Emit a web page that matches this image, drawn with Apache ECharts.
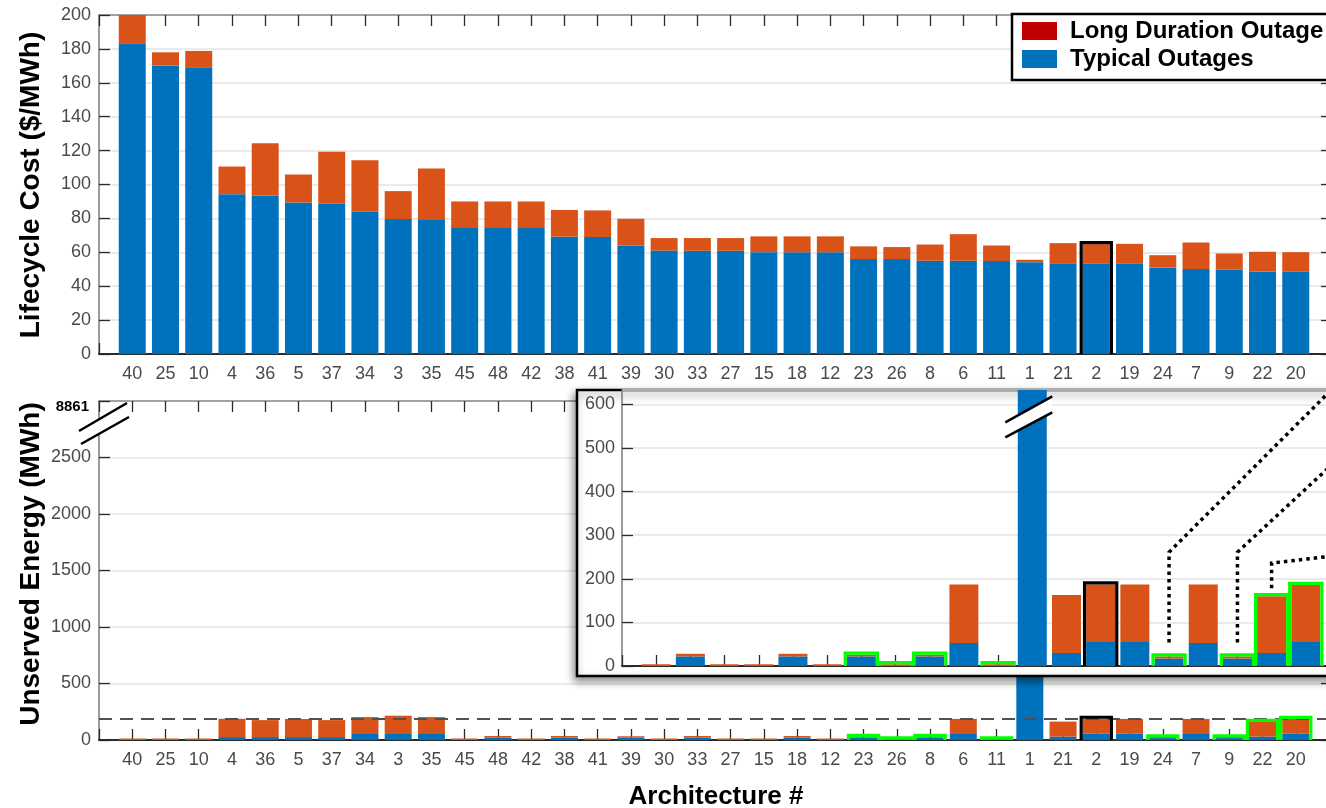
<!DOCTYPE html>
<html>
<head>
    <meta charset="utf-8"/>
    <style>
        html, body {
            margin: 0;
            padding: 0;
            background: #fff;
        }

        #main {
            width: 1326px;
            height: 808px;
        }
    </style>
</head>
<body>
<div id="main"></div>
<script src="https://cdn.jsdelivr.net/npm/echarts@6/dist/echarts.min.js"></script>
<script type="text/javascript">
// architectures in plotted order
var architectures = ['40', '25', '10', '4', '36', '5', '37', '34', '3', '35', '45', '48', '42', '38', '41', '39', '30', '33',
    '27', '15', '18', '12', '23', '26', '8', '6', '11', '1', '21', '2', '19', '24', '7', '9', '22', '20'];

// lifecycle cost ($/MWh)
var costTypical = [183.3, 170.1, 169.2, 94.3, 93.5, 89.4, 88.6, 83.9, 79.6, 79.0, 74.3, 74.3, 74.3, 69.2, 69.0, 64.0, 61.0, 60.9,
    60.9, 60.1, 60.0, 60.0, 56.0, 56.0, 55.0, 55.0, 54.8, 54.2, 53.6, 53.2, 53.2, 51.1, 50.1, 49.7, 48.7, 48.5];
var costLong = [17.7, 7.9, 9.6, 16.3, 30.9, 16.5, 30.7, 30.4, 16.5, 30.4, 15.7, 15.7, 15.7, 15.8, 15.7, 15.8, 7.4, 7.5,
    7.5, 9.3, 9.4, 9.4, 7.5, 7.1, 9.6, 15.7, 9.2, 1.4, 11.8, 11.6, 11.8, 7.2, 15.7, 9.6, 11.6, 11.6];

// unserved energy (MWh)
var energyTypical = [0, 0, 0, 26, 26, 26, 26, 53, 53, 53, 0, 22, 0, 22, 0, 20, 0, 22,
    0, 0, 22, 0, 22, 0, 22, 53, 0, 8861, 30, 55, 55, 17, 53, 17, 30, 55];
var energyLong = [5, 5, 5, 162, 150, 160, 150, 150, 162, 150, 5, 6, 5, 6, 5, 7, 4, 6,
    4, 4, 6, 4, 4, 4, 4, 134, 4, 0, 133, 132, 132, 5, 134, 5, 130, 131];

var costTicks = [0, 200, 20];          // min, max, step
var energyTicks = [0, 3000, 500];      // axis broken at the top
var insetTicks = [0, 633, 100];
var energyLimit = 187;                 // dashed line
var insetFrom = '30';                  // zoomed panel starts here
var selectedArch = ['2'];
var feasibleArch = ['23', '26', '8', '11', '24', '9', '22', '20'];
var calloutArch = ['24', '9', '22'];

var blue = '#0072BD', orange = '#D95319', green = '#00FF00';
var tickFont = "'Liberation Sans', Arial, sans-serif";
var boldFont = "'Liberation Sans', Arial, sans-serif";
var labelColor = '#4a4a4a';
var mainBar = 27, insetBar = 29;

var chart = echarts.init(document.getElementById('main'));

var insetStart = architectures.indexOf(insetFrom);
var insetArch = architectures.slice(insetStart);
var maxEnergy = Math.max.apply(null, energyTypical.map(function (v, i) { return v + energyLong[i]; }));

// one empty slot on each side, like xlim [0, n+1]
function pad(vals) {
    return ['-'].concat(vals, ['-']);
}

function totals(a, b, names, wanted) {
    var out = [];
    names.forEach(function (n, i) {
        if (wanted.indexOf(n) >= 0) out.push([i + 1, a[i] + b[i]]);
    });
    return out;
}

function xAxisDef(grid, names, pos, labels, z) {
    return {
        type: 'category', gridIndex: grid, position: pos, boundaryGap: false, z: z,
        data: [''].concat(names, ['']),
        axisLine: {show: true, onZero: false, lineStyle: {color: pos === 'bottom' ? '#2b2b2b' : '#8a8a8a', width: pos === 'bottom' ? 2 : 1.5}},
        axisTick: {show: true, inside: true, interval: 0, length: 11, lineStyle: {color: '#2b2b2b', width: 1.3}},
        splitLine: {show: false},
        axisLabel: labels ? {show: true, interval: 0, margin: 11, color: labelColor, fontSize: 18, fontFamily: tickFont} : {show: false}
    };
}

function yAxisDef(grid, ticks, pos, labels, z, extra) {
    var ax = {
        type: 'value', gridIndex: grid, position: pos, min: ticks[0], max: ticks[1], interval: ticks[2], z: z,
        axisLine: {show: true, onZero: false, lineStyle: {color: '#7a7a7a', width: 1.5}},
        axisTick: {show: true, inside: true, length: pos === 'left' ? 11 : 8, lineStyle: {color: '#2b2b2b', width: 1.3}},
        splitLine: {show: labels, lineStyle: {color: '#e3e3e3', width: 1.6}},
        axisLabel: labels ? {show: true, margin: 8, color: labelColor, fontSize: 18, fontFamily: tickFont} : {show: false}
    };
    if (extra) echarts.util.merge(ax.axisLabel, extra, true);
    return ax;
}

function outline(xi, yi, data, color, barW, z) {
    return {
        type: 'custom', xAxisIndex: xi, yAxisIndex: yi, z: z, silent: true, clip: true,
        data: data,
        renderItem: function (params, api) {
            var top = api.coord([api.value(0), api.value(1)]);
            var base = api.coord([api.value(0), 0]);
            var lw = 3.2, w = barW + lw;
            return {
                type: 'rect',
                shape: {x: top[0] - w / 2, y: top[1] - lw / 2, width: w, height: base[1] - top[1] + lw},
                style: {fill: 'rgba(0,0,0,0)', stroke: color, lineWidth: lw}
            };
        }
    };
}

var dashed = {
    silent: true, symbol: ['none', 'none'], label: {show: false},
    lineStyle: {color: '#505050', type: [13, 8], width: 2},
    data: [{yAxis: energyLimit}]
};

var option = {
    animation: false,
    backgroundColor: '#fff',
    grid: [
        {left: 99, top: 15, width: 1230, height: 339, outerBoundsMode: 'none'},
        {left: 99, top: 401, width: 1230, height: 339, outerBoundsMode: 'none'},
        {left: 622, top: 390, width: 718, height: 276, outerBoundsMode: 'none'}
    ],
    legend: {
        left: 1012, top: 14, orient: 'vertical', z: 40,
        backgroundColor: '#fff', borderColor: '#000', borderWidth: 2.5,
        padding: [5, 10, 9, 10], itemGap: 4, itemWidth: 35, itemHeight: 18,
        icon: 'rect', selectedMode: false,
        textStyle: {fontSize: 24, fontWeight: 'bold', color: '#000', fontFamily: boldFont, padding: [0, 0, 0, 8]},
        data: [{name: 'Long Duration Outage', itemStyle: {color: '#C00000'}}, {name: 'Typical Outages'}]
    },
    xAxis: [
        xAxisDef(0, architectures, 'bottom', true, 0),
        xAxisDef(0, architectures, 'top', false, 0),
        xAxisDef(1, architectures, 'bottom', true, 0),
        xAxisDef(1, architectures, 'top', false, 0),
        xAxisDef(2, insetArch, 'bottom', false, 12)
    ],
    yAxis: [
        yAxisDef(0, costTicks, 'left', true, 0),
        yAxisDef(0, costTicks, 'right', false, 0),
        yAxisDef(1, energyTicks, 'left', true, 0, {
            formatter: function (v) { return v === energyTicks[1] ? '{brk|' + maxEnergy + '}' : v; },
            rich: {brk: {fontSize: 15, fontWeight: 'bold', color: '#000', fontFamily: boldFont, padding: [11, 2, 0, 0]}}
        }),
        yAxisDef(1, energyTicks, 'right', false, 0),
        yAxisDef(2, insetTicks, 'left', true, 12, {margin: 7, showMaxLabel: false})
    ],
    series: [
        {name: 'Typical Outages', type: 'bar', stack: 'cost', xAxisIndex: 0, yAxisIndex: 0, barWidth: mainBar,
            itemStyle: {color: blue}, data: pad(costTypical)},
        {name: 'Long Duration Outage', type: 'bar', stack: 'cost', xAxisIndex: 0, yAxisIndex: 0, barWidth: mainBar,
            itemStyle: {color: orange}, data: pad(costLong)},
        outline(0, 0, totals(costTypical, costLong, architectures, selectedArch), '#000', mainBar, 5),

        {name: 'Typical Outages', type: 'bar', stack: 'energy', xAxisIndex: 2, yAxisIndex: 2, barWidth: mainBar,
            itemStyle: {color: blue}, data: pad(energyTypical)},
        {name: 'Long Duration Outage', type: 'bar', stack: 'energy', xAxisIndex: 2, yAxisIndex: 2, barWidth: mainBar,
            barMinHeight: 1.5, itemStyle: {color: orange}, data: pad(energyLong), markLine: dashed},
        outline(2, 2, totals(energyTypical, energyLong, architectures, feasibleArch), green, mainBar, 5),
        outline(2, 2, totals(energyTypical, energyLong, architectures, selectedArch), '#000', mainBar, 5),

        {name: 'Typical Outages', type: 'bar', stack: 'inset', xAxisIndex: 4, yAxisIndex: 4, barWidth: insetBar, z: 14,
            itemStyle: {color: blue}, data: pad(energyTypical.slice(insetStart))},
        {name: 'Long Duration Outage', type: 'bar', stack: 'inset', xAxisIndex: 4, yAxisIndex: 4, barWidth: insetBar, z: 14,
            itemStyle: {color: orange}, data: pad(energyLong.slice(insetStart)), markLine: dashed},
        outline(4, 4, totals(energyTypical.slice(insetStart), energyLong.slice(insetStart), insetArch, feasibleArch), green, insetBar, 16),
        outline(4, 4, totals(energyTypical.slice(insetStart), energyLong.slice(insetStart), insetArch, selectedArch), '#000', insetBar, 16)
    ]
};

chart.setOption(option);

// annotations placed from the axes
function px(ai, pt) {
    return chart.convertToPixel({xAxisIndex: ai, yAxisIndex: ai}, pt);
}

function slashBreak(a, d1, d2, z) {
    var p = [[a[0] + d1[0], a[1] + d1[1]], [a[0] + d1[2], a[1] + d1[3]], [a[0] + d2[2], a[1] + d2[3]], [a[0] + d2[0], a[1] + d2[1]]];
    return [
        {type: 'polygon', z: z, silent: true, shape: {points: p}, style: {fill: '#fff'}},
        {type: 'line', z: z + 1, silent: true, shape: {x1: p[0][0], y1: p[0][1], x2: p[1][0], y2: p[1][1]}, style: {stroke: '#000', lineWidth: 2.5}},
        {type: 'line', z: z + 1, silent: true, shape: {x1: p[3][0], y1: p[3][1], x2: p[2][0], y2: p[2][1]}, style: {stroke: '#000', lineWidth: 2.5}}
    ];
}

var graphics = [];

// inset panel
var g0 = px(4, [0, insetTicks[1]]);
graphics.push({
    type: 'rect', z: 10, silent: true,
    shape: {x: g0[0] - 45, y: g0[1], width: 800, height: 286},
    style: {fill: '#fff', stroke: '#000', lineWidth: 2.5, shadowBlur: 8, shadowOffsetX: -2, shadowOffsetY: 4, shadowColor: 'rgba(0,0,0,0.45)'}
});

// axis break marks
graphics = graphics.concat(slashBreak(px(2, [0, energyTicks[1]]), [-20, 30, 28, 2], [-18, 43, 30, 16], 20));
var one = architectures.indexOf('1') - insetStart + 1;
graphics = graphics.concat(slashBreak(px(4, [one, 575]), [-27, 7, 20, -19], [-27, 22, 20, -3], 20));

// dotted callouts leaving the panel
var elbows = [[261, 160, -160], [261, 95, -88], [236, 60, -7]];
calloutArch.forEach(function (a, k) {
    var i = insetArch.indexOf(a);
    var top = px(4, [i + 1, energyTypical[insetStart + i] + energyLong[insetStart + i]]);
    var elb = px(4, [i + 1, elbows[k][0]]);
    var startY = k < 2 ? top[1] - 14 : top[1] - 8;
    graphics.push({
        type: 'polyline', z: 22, silent: true,
        shape: {points: [[top[0], startY], [elb[0], elb[1]], [elb[0] + elbows[k][1], elb[1] + elbows[k][2]]]},
        style: {stroke: '#000', lineWidth: 3.5, lineDash: [3.5, 4], fill: null}
    });
});

// axis titles
graphics.push(
    {type: 'text', z: 30, x: 31, y: 185, rotation: Math.PI / 2, silent: true,
        style: {text: 'Lifecycle Cost ($/MWh)', font: 'bold 28px ' + boldFont, fill: '#000', align: 'center', verticalAlign: 'middle'}},
    {type: 'text', z: 30, x: 31, y: 564, rotation: Math.PI / 2, silent: true,
        style: {text: 'Unserved Energy (MWh)', font: 'bold 28px ' + boldFont, fill: '#000', align: 'center', verticalAlign: 'middle'}},
    {type: 'text', z: 30, x: 716, y: 797, silent: true,
        style: {text: 'Architecture #', font: 'bold 26px ' + boldFont, fill: '#000', align: 'center', verticalAlign: 'middle'}}
);

chart.setOption({graphic: graphics});
</script>
</body>
</html>
